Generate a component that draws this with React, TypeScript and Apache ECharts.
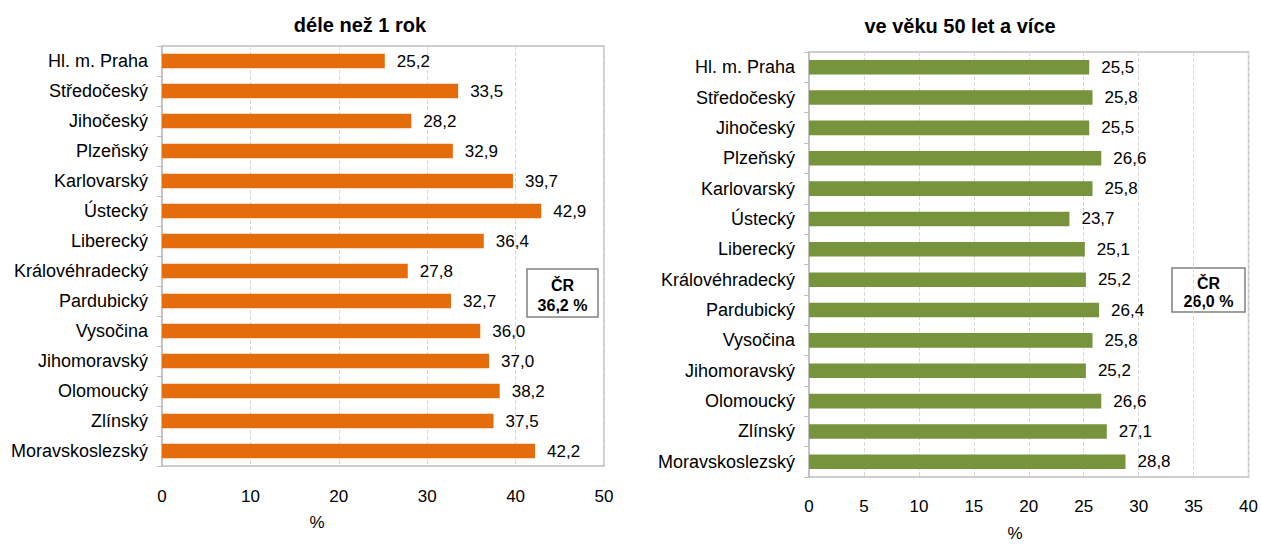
import React, { useEffect, useRef } from "react";
import * as echarts from "echarts";

const categories = [
  "Hl. m. Praha",
  "Středočeský",
  "Jihočeský",
  "Plzeňský",
  "Karlovarský",
  "Ústecký",
  "Liberecký",
  "Královéhradecký",
  "Pardubický",
  "Vysočina",
  "Jihomoravský",
  "Olomoucký",
  "Zlínský",
  "Moravskoslezský",
];

const longTermValues = [25.2, 33.5, 28.2, 32.9, 39.7, 42.9, 36.4, 27.8, 32.7, 36.0, 37.0, 38.2, 37.5, 42.2];
const olderValues = [25.5, 25.8, 25.5, 26.6, 25.8, 23.7, 25.1, 25.2, 26.4, 25.8, 25.2, 26.6, 27.1, 28.8];

const leftTitle = "déle než 1 rok";
const rightTitle = "ve věku 50 let a více";
const leftTotal = "36,2 %";
const rightTotal = "26,0 %";
const totalLabel = "ČR";
const axisName = "%";

const FONT = "'Liberation Sans', Arial, Helvetica, sans-serif";
const fmt = (v: number) => v.toFixed(1).replace(".", ",");

export default function App() {
  const ref = useRef<HTMLDivElement>(null);
  useEffect(() => {
    if (!ref.current) return;
    const chart = echarts.init(ref.current, undefined, { renderer: "svg" });

    const yAxisBase = (gridIndex: number) => ({
      type: "category" as const,
      gridIndex,
      data: categories,
      inverse: true,
      axisLine: { show: true, lineStyle: { color: "#BFBFBF", width: 1.5 } },
      axisTick: { show: true, length: 5, lineStyle: { color: "#BFBFBF" } },
      axisLabel: { fontSize: 18, color: "#000", margin: 14, fontFamily: FONT },
    });

    const xAxisBase = (gridIndex: number, max: number, interval: number, margin: number) => ({
      type: "value" as const,
      gridIndex,
      min: 0,
      max,
      interval,
      axisLine: { show: false },
      axisTick: { show: false },
      axisLabel: { fontSize: 17, color: "#000", margin, fontFamily: FONT },
      splitLine: { show: true, lineStyle: { color: "#D9D9D9", type: "dashed", width: 1 } },
    });

    const barSeries = (idx: number, data: number[], color: string) => ({
      type: "bar" as const,
      xAxisIndex: idx,
      yAxisIndex: idx,
      data,
      barWidth: "48%",
      itemStyle: { color },
      label: {
        show: true,
        position: "right" as const,
        distance: 12,
        fontSize: 17,
        color: "#000",
        fontFamily: FONT,
        formatter: (p: any) => fmt(p.value),
      },
    });

    const box = (x: number, y: number, w: number, h: number, value: string) => ({
      type: "group",
      children: [
        {
          type: "rect",
          shape: { x, y, width: w, height: h },
          style: { fill: "#fff", stroke: "#808080", lineWidth: 1.5 },
        },
        {
          type: "text",
          x: x + w / 2,
          y: y + h * 0.35,
          style: {
            text: totalLabel,
            fontSize: 16,
            fontWeight: "bold",
            fill: "#000",
            fontFamily: FONT,
            align: "center",
            verticalAlign: "middle",
          },
        },
        {
          type: "text",
          x: x + w / 2,
          y: y + h * 0.77,
          style: {
            text: value,
            fontSize: 16,
            fontWeight: "bold",
            fill: "#000",
            fontFamily: FONT,
            align: "center",
            verticalAlign: "middle",
          },
        },
      ],
    });

    const txt = (x: number, y: number, text: string, size: number, bold: boolean) => ({
      type: "text",
      x,
      y,
      style: {
        text,
        fontSize: size,
        fontWeight: bold ? "bold" : "normal",
        fill: "#000",
        fontFamily: FONT,
        align: "center",
        verticalAlign: "middle",
      },
    });

    chart.setOption({
      animation: false,
      backgroundColor: "#fff",
      textStyle: { fontFamily: FONT },
      grid: [
        { left: 162, top: 46, width: 442, height: 420, show: true, borderColor: "#BFBFBF", borderWidth: 1.5, containLabel: false },
        { left: 809, top: 52, width: 443, height: 425, show: true, borderColor: "#BFBFBF", borderWidth: 1.5, containLabel: false },
      ],
      xAxis: [xAxisBase(0, 50, 10, 22), xAxisBase(1, 40, 5, 21)],
      yAxis: [yAxisBase(0), yAxisBase(1)],
      series: [barSeries(0, longTermValues, "#E46C0A"), barSeries(1, olderValues, "#77933C")],
      graphic: [
        txt(360, 25, leftTitle, 20, true),
        txt(960, 26, rightTitle, 20, true),
        txt(317, 522, axisName, 17, false),
        txt(1015, 533, axisName, 17, false),
        box(527, 269, 71, 48, leftTotal),
        box(1172, 268, 73, 44, rightTotal),
      ],
    });

    return () => chart.dispose();
  }, []);

  return (
    <div
      ref={ref}
      style={{ position: "absolute", left: 0, top: 0, width: 1261, height: 544, background: "#fff" }}
    />
  );
}
